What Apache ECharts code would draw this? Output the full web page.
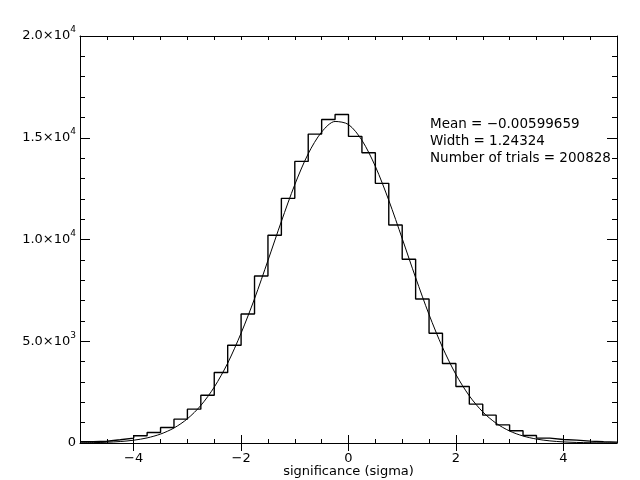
<!DOCTYPE html>
<html><head><meta charset="utf-8">
<script src="https://cdn.jsdelivr.net/npm/echarts@6/dist/echarts.min.js"></script>
<style>html,body{margin:0;padding:0;background:#fff}#c{width:640px;height:480px}</style>
</head><body><div id="c"></div>
<script>
// Histogram: 40 bins of width 0.25 from -5 to 5
const binStart = -5;
const binWidth = 0.25;
const counts = [
  60, 85, 157, 240, 353, 516, 761, 1172, 1663, 2350, 3462, 4805,
  6342, 8208, 10206, 12022, 13838, 15179, 15900, 16145,
  15066, 14261, 12758, 10712, 9028, 7079, 5395, 3903, 2774, 1908,
  1368, 893, 599, 368, 240, 172, 142, 93, 59, 44
];
// Fitted curve at 0.25 steps
const fitX = [-5,-4.75,-4.5,-4.25,-4,-3.75,-3.5,-3.25,-3,-2.75,-2.5,-2.25,-2,-1.75,-1.5,-1.25,-1,-0.75,-0.5,-0.25,
  0,0.25,0.5,0.75,1,1.25,1.5,1.75,2,2.25,2.5,2.75,3,3.25,3.5,3.75,4,4.25,4.5,4.75,5];
const fitY = [8, 18, 37, 72, 137, 251, 439, 737, 1190, 1844, 2746, 3923, 5400, 7088, 8967, 10888, 12697, 14215, 15282, 15800,
  15650, 14877, 13594, 11926, 10047, 8126, 6311, 4705, 3368, 2316, 1528, 969, 589, 344, 193, 104, 54, 27, 13, 6, 3];
const xMajorTicks = [-4, -2, 0, 2, 4];
const xTickLabels = ['\u22124', '\u22122', '0', '2', '4'];
const yMajorTicks = [0, 5000, 10000, 15000, 20000];
const yTickLabels = ['0', '5.0\u00d710{sup|3}', '1.0\u00d710{sup|4}', '1.5\u00d710{sup|4}', '2.0\u00d710{sup|4}'];
const statLines = ['Mean = \u22120.00599659', 'Width = 1.24324', 'Number of trials = 200828'];
const xTitle = 'significance (sigma)';

const FONT = 'DejaVu Sans';
const histData = [];
counts.forEach((c, i) => {
  const l = binStart + i * binWidth;
  histData.push([l, c]);
  histData.push([l + binWidth, c]);
});
const fitData = fitX.map((x, i) => [x, fitY[i]]);

const black = '#000';
const baseX = {
  type: 'value', min: -5, max: 5, splitLine: {show: false},
  axisLine: {show: false, lineStyle: {color: black, width: 1}},
  axisTick: {show: true, inside: true, lineStyle: {color: black, width: 1}},
  axisLabel: {show: false}
};
const chart = echarts.init(document.getElementById('c'), null, {renderer: 'canvas'});
chart.setOption({
  backgroundColor: '#fff',
  animation: false,
  grid: {left: 80, right: 23, top: 36, bottom: 37, containLabel: false, outerBoundsMode: 'none'},
  xAxis: [
    Object.assign({}, baseX, {
      position: 'bottom', interval: 0.5,
      axisLine: {show: true, onZero: false, lineStyle: {color: black, width: 1}},
      axisTick: {show: true, inside: true, length: 4, lineStyle: {color: black, width: 1}},
      name: xTitle, nameLocation: 'middle', nameGap: 22,
      nameTextStyle: {color: black, fontFamily: FONT, fontSize: 13, verticalAlign: 'top'}
    }),
    Object.assign({}, baseX, {
      position: 'bottom',
      axisTick: {show: true, inside: true, length: 8, customValues: xMajorTicks, lineStyle: {color: black, width: 1}},
      axisLabel: {show: true, customValues: xMajorTicks, margin: 9, color: black, fontFamily: FONT, fontSize: 13,
        formatter: v => xTickLabels[xMajorTicks.indexOf(v)]}
    }),
    Object.assign({}, baseX, {
      position: 'top', interval: 0.5,
      axisLine: {show: true, onZero: false, lineStyle: {color: black, width: 1}},
      axisTick: {show: true, inside: true, length: 4, lineStyle: {color: black, width: 1}}
    }),
    Object.assign({}, baseX, {
      position: 'top',
      axisTick: {show: true, inside: true, length: 8, customValues: xMajorTicks, lineStyle: {color: black, width: 1}}
    })
  ],
  yAxis: [
    {
      type: 'value', min: 0, max: 20000, interval: 5000, position: 'left',
      splitLine: {show: false},
      axisLine: {show: true, onZero: false, lineStyle: {color: black, width: 1}},
      axisTick: {show: true, inside: true, length: 10, lineStyle: {color: black, width: 1}},
      minorTick: {show: true, splitNumber: 5, length: 5, lineStyle: {color: black, width: 1}},
      axisLabel: {
        show: true, margin: 4, color: black, fontFamily: FONT, fontSize: 13,
        formatter: v => yTickLabels[yMajorTicks.indexOf(v)],
        rich: {sup: {fontFamily: FONT, fontSize: 9, color: black, padding: [0, 0, 12, 0]}}
      }
    },
    {
      type: 'value', min: 0, max: 20000, interval: 5000, position: 'right',
      splitLine: {show: false},
      axisLine: {show: true, onZero: false, lineStyle: {color: black, width: 1}},
      axisTick: {show: true, inside: true, length: 10, lineStyle: {color: black, width: 1}},
      minorTick: {show: true, splitNumber: 5, length: 5, lineStyle: {color: black, width: 1}},
      axisLabel: {show: false}
    }
  ],
  series: [
    {
      type: 'line', xAxisIndex: 0, yAxisIndex: 0, data: histData,
      symbol: 'none', lineStyle: {color: black, width: 1.4}, silent: true
    },
    {
      type: 'line', xAxisIndex: 0, yAxisIndex: 0, data: fitData, smooth: 0.3,
      symbol: 'none', lineStyle: {color: black, width: 1}, silent: true
    }
  ],
  graphic: [{
    type: 'text', left: 430, top: 116,
    style: {text: statLines.join('\n'), fill: black, font: '13.5px "DejaVu Sans"', lineHeight: 17}
  }]
});
</script>
</body></html>
